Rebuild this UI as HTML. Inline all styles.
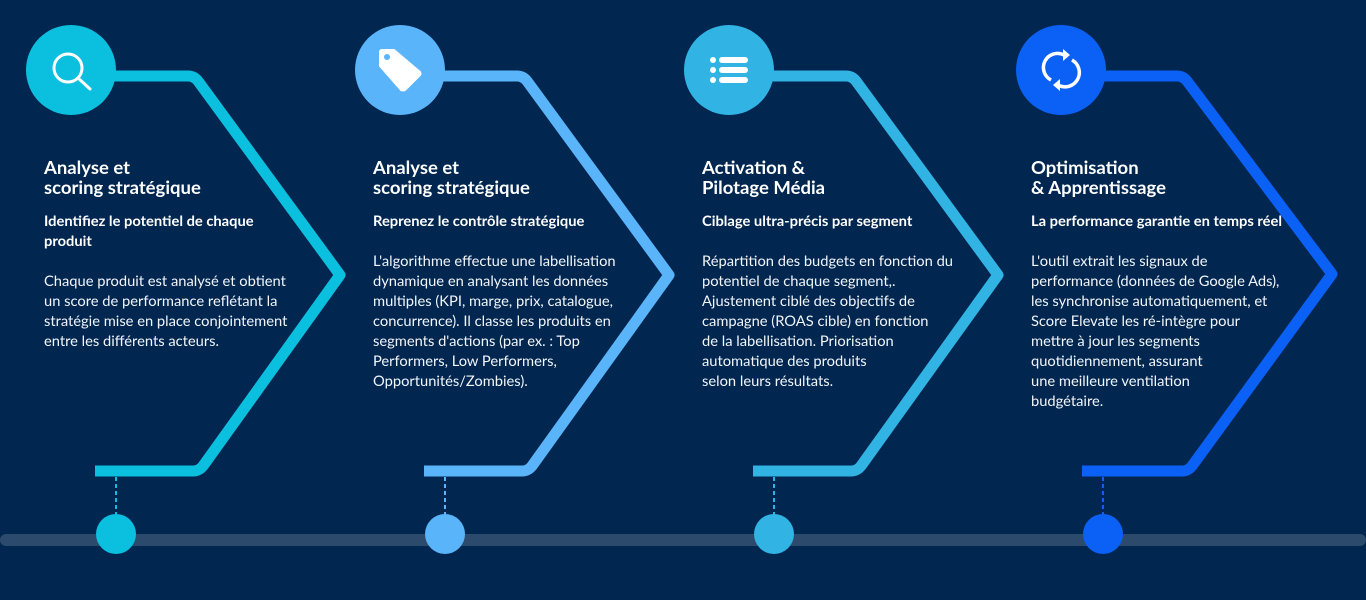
<!DOCTYPE html>
<html><head><meta charset="utf-8"><style>
html,body{margin:0;padding:0}
body{width:1366px;height:600px;background:#012650;position:relative;overflow:hidden;font-family:"Lato","Liberation Sans",sans-serif;color:#fff}
svg{position:absolute;left:0;top:0}
.t{position:absolute;top:157px;font-size:18.5px;font-weight:bold;line-height:20px}
.s{position:absolute;top:211px;font-size:14.7px;font-weight:bold;line-height:20px;white-space:nowrap}
.b{position:absolute;top:251px;font-size:14.7px;line-height:20px;white-space:nowrap;color:#f2f5fa}
</style></head><body>
<svg width="1366" height="600" viewBox="0 0 1366 600">
<rect x="0" y="534" width="1366" height="12" rx="6" fill="#2c4b6c"/>
<g fill="none" stroke-width="11" stroke-linejoin="round">
<path d="M110 76 H188 Q194 76 198 81 L340 275 L203 466 Q199 471 193 471 H95" stroke="#0bbfdf"/>
<path d="M439 76 H517 Q523 76 527 81 L669 275 L532 466 Q528 471 522 471 H424" stroke="#5ab4f9"/>
<path d="M768 76 H846 Q852 76 856 81 L998 275 L861 466 Q857 471 851 471 H753" stroke="#31b3e4"/>
<path d="M1097 76 H1177 Q1183 76 1187 81 L1332 274 L1192 466 Q1188 471 1182 471 H1082" stroke="#0b60f5"/>
</g>
<g stroke-width="2" stroke-dasharray="4 3">
<line x1="116" y1="477" x2="116" y2="515" stroke="#0bbfdf"/>
<line x1="445" y1="477" x2="445" y2="515" stroke="#5ab4f9"/>
<line x1="774" y1="477" x2="774" y2="515" stroke="#31b3e4"/>
<line x1="1103" y1="477" x2="1103" y2="515" stroke="#0b60f5"/>
</g>
<circle cx="116" cy="534" r="20" fill="#0bbfdf"/>
<circle cx="445" cy="534" r="20" fill="#5ab4f9"/>
<circle cx="774" cy="534" r="20" fill="#31b3e4"/>
<circle cx="1103" cy="534" r="20" fill="#0b60f5"/>
<circle cx="71" cy="70" r="45" fill="#0bbfdf"/>
<circle cx="400" cy="70" r="45" fill="#5ab4f9"/>
<circle cx="729" cy="70" r="45" fill="#31b3e4"/>
<circle cx="1061" cy="70" r="45" fill="#0b60f5"/>
<g fill="none" stroke="#fff" stroke-width="3" stroke-linecap="round">
<circle cx="68" cy="68" r="14"/>
<line x1="78" y1="78" x2="90" y2="89"/>
</g>
<path d="M380 52 Q380 50 382 50 H394 L420 72 Q421 74 420 75 L405 90 Q403 91 401 90 L380 66 Z" fill="#fff" stroke="#fff" stroke-width="2" stroke-linejoin="round"/>
<circle cx="387" cy="57" r="3" fill="#5ab4f9"/>
<g fill="#fff">
<circle cx="713" cy="60" r="3"/><circle cx="713" cy="70" r="3"/><circle cx="713" cy="80" r="3"/>
<rect x="719" y="57" width="29" height="6" rx="3"/><rect x="719" y="67" width="29" height="6" rx="3"/><rect x="719" y="77" width="29" height="6" rx="3"/>
</g>
<g fill="none" stroke="#fff" stroke-width="3.5">
<path d="M1051 80 A14 14 0 0 1 1064 55"/>
<path d="M1072 60 A14 14 0 0 1 1058 85"/>
</g>
<path d="M1063 49 L1070 55 L1063 61 Z" fill="#fff"/>
<path d="M1060 79 L1053 85 L1060 91 Z" fill="#fff"/>
</svg>

<div class="t" style="left:44px">Analyse et<br>scoring stratégique</div>
<div class="s" style="left:44px">Identifiez le potentiel de chaque<br>produit</div>
<div class="b" style="left:44px;top:271px">Chaque produit est analysé et obtient<br>un score de performance reflétant la<br>stratégie mise en place conjointement<br>entre les différents acteurs.</div>

<div class="t" style="left:373px">Analyse et<br>scoring stratégique</div>
<div class="s" style="left:373px">Reprenez le contrôle stratégique</div>
<div class="b" style="left:373px">L'algorithme effectue une labellisation<br>dynamique en analysant les données<br>multiples (KPI, marge, prix, catalogue,<br>concurrence). Il classe les produits en<br>segments d'actions (par ex. : Top<br>Performers, Low Performers,<br>Opportunités/Zombies).</div>

<div class="t" style="left:702px">Activation &amp;<br>Pilotage Média</div>
<div class="s" style="left:702px">Ciblage ultra-précis par segment</div>
<div class="b" style="left:702px">Répartition des budgets en fonction du<br>potentiel de chaque segment,.<br>Ajustement ciblé des objectifs de<br>campagne (ROAS cible) en fonction<br>de la labellisation. Priorisation<br>automatique des produits<br>selon leurs résultats.</div>

<div class="t" style="left:1031px">Optimisation<br>&amp; Apprentissage</div>
<div class="s" style="left:1031px">La performance garantie en temps réel</div>
<div class="b" style="left:1031px">L'outil extrait les signaux de<br>performance (données de Google Ads),<br>les synchronise automatiquement, et<br>Score Elevate les ré-intègre pour<br>mettre à jour les segments<br>quotidiennement, assurant<br>une meilleure ventilation<br>budgétaire.</div>
</body></html>
